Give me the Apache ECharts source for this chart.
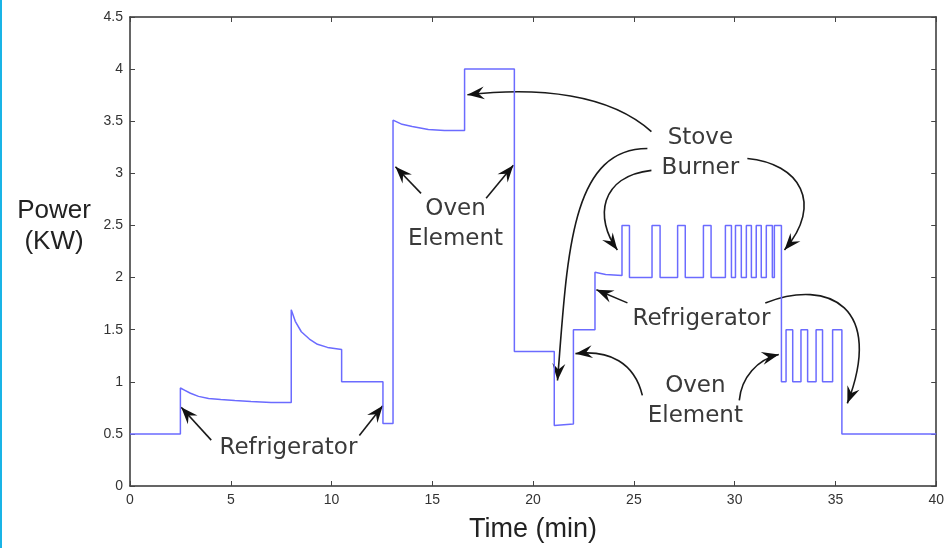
<!DOCTYPE html>
<html>
<head>
<meta charset="utf-8">
<script src="https://cdn.jsdelivr.net/npm/echarts@6/dist/echarts.min.js"></script>
<style>
  html, body { margin: 0; padding: 0; background: #fff; }
  #main { width: 947px; height: 548px; }
</style>
</head>
<body>
<div id="main"></div>
<script>
// measured power trace: time (min) and power (kW), vertical steps as repeated times
var timeMin = [
    0, 2.5, 2.5, 2.7, 3.0, 3.4, 3.9, 4.5, 5.2, 6.0, 7.0, 8.0,
    8.0, 8.2, 8.5, 8.9, 9.3, 9.8, 10.5,
    10.5, 12.55, 12.55, 13.05,
    13.05, 13.5, 14.0, 14.8, 15.6, 16.6,
    16.6, 19.07, 19.07, 21.05, 21.05, 22.0,
    22.0, 23.07, 23.07, 23.6, 24.41,
    24.41, 24.78, 24.78, 25.9, 25.9, 26.3, 26.3, 27.17, 27.17, 27.55, 27.55, 28.45,
    28.45, 28.83, 28.83, 29.54, 29.54, 29.84, 29.84, 30.04, 30.04, 30.33, 30.33, 30.58,
    30.58, 30.83, 30.83, 31.07, 31.07, 31.32, 31.32, 31.57, 31.57, 31.87, 31.87, 31.97,
    31.97, 32.32, 32.32, 32.55, 32.55, 32.88, 32.88, 33.29, 33.29, 33.62, 33.62, 34.04,
    34.04, 34.36, 34.36, 34.86, 34.86, 35.32, 35.32, 40
];
var powerKw = [
    0.5, 0.5, 0.94, 0.92, 0.89, 0.86, 0.84, 0.83, 0.82, 0.81, 0.8, 0.8,
    1.69, 1.58, 1.48, 1.41, 1.36, 1.33, 1.31,
    1.0, 1.0, 0.6, 0.6,
    3.51, 3.47, 3.45, 3.42, 3.41, 3.41,
    4.0, 4.0, 1.29, 1.29, 0.58, 0.595,
    1.5, 1.5, 2.05, 2.03, 2.02,
    2.5, 2.5, 2.0, 2.0, 2.5, 2.5, 2.0, 2.0, 2.5, 2.5, 2.0, 2.0,
    2.5, 2.5, 2.0, 2.0, 2.5, 2.5, 2.0, 2.0, 2.5, 2.5, 2.0, 2.0,
    2.5, 2.5, 2.0, 2.0, 2.5, 2.5, 2.0, 2.0, 2.5, 2.5, 2.0, 2.0,
    2.5, 2.5, 1.0, 1.0, 1.5, 1.5, 1.0, 1.0, 1.5, 1.5, 1.0, 1.0,
    1.5, 1.5, 1.0, 1.0, 1.5, 1.5, 0.5, 0.5
];

// annotations, in data units [min, kW]
var noteTexts = [
    { text: 'Refrigerator', at: [7.86, 0.36] },
    { text: 'Oven\nElement', at: [16.15, 2.51] },
    { text: 'Stove\nBurner', at: [28.3, 3.19] },
    { text: 'Refrigerator', at: [28.35, 1.6] },
    { text: 'Oven\nElement', at: [28.05, 0.82] }
];
// each arrow: start, control 1, control 2, tip
var noteArrows = [
    [[4.03, 0.44], [4.03, 0.44], [2.54, 0.755], [2.54, 0.755]],
    [[11.38, 0.484], [11.38, 0.484], [12.54, 0.771], [12.54, 0.771]],
    [[14.44, 2.808], [14.44, 2.808], [13.17, 3.063], [13.17, 3.063]],
    [[17.67, 2.76], [17.67, 2.76], [19.02, 3.078], [19.02, 3.078]],
    [[25.87, 3.4], [23.78, 3.763], [20.31, 3.83], [16.74, 3.754]],
    [[25.67, 3.238], [21.8, 3.238], [21.7, 2.187], [21.21, 1.012]],
    [[25.87, 3.028], [23.29, 2.97], [23.04, 2.569], [24.18, 2.264]],
    [[30.63, 3.142], [33.21, 3.095], [34.45, 2.713], [32.47, 2.264]],
    [[24.68, 1.757], [24.68, 1.757], [23.14, 1.882], [23.14, 1.882]],
    [[31.52, 1.757], [34.7, 1.996], [37.43, 1.71], [35.59, 0.793]],
    [[25.42, 0.869], [25.03, 1.184], [23.78, 1.309], [22.1, 1.27]],
    [[30.23, 0.821], [30.33, 1.041], [31.12, 1.213], [32.19, 1.261]]
];

var chart = echarts.init(document.getElementById('main'));

var trace = timeMin.map(function (t, i) { return [t, powerKw[i]]; });

var axisLine = { onZero: false, lineStyle: { color: '#333', width: 1.5 } };
var tick = { inside: true, length: 5, lineStyle: { color: '#444', width: 1 } };
var tickLabel = { color: '#333', fontSize: 14, fontFamily: 'Liberation Sans', margin: 7 };

var option = {
    animation: false,
    backgroundColor: '#fff',
    grid: { left: 130, right: 9, top: 17, bottom: 59 },
    xAxis: [{
        type: 'value', min: 0, max: 40, interval: 5, position: 'bottom',
        name: 'Time (min)', nameLocation: 'middle', nameGap: 30,
        nameTextStyle: { fontFamily: 'Liberation Sans', fontSize: 27, color: '#222' },
        axisLine: axisLine, axisTick: tick, axisLabel: tickLabel,
        splitLine: { show: false }
    }, {
        type: 'value', min: 0, max: 40, interval: 5, position: 'top',
        axisLine: axisLine, axisTick: tick, axisLabel: { show: false },
        splitLine: { show: false }
    }],
    yAxis: [{
        type: 'value', min: 0, max: 4.5, interval: 0.5, position: 'left',
        axisLine: axisLine, axisTick: tick, axisLabel: tickLabel,
        splitLine: { show: false }
    }, {
        type: 'value', min: 0, max: 4.5, interval: 0.5, position: 'right',
        axisLine: axisLine, axisTick: tick, axisLabel: { show: false },
        splitLine: { show: false }
    }],
    series: [{
        type: 'line',
        xAxisIndex: 0, yAxisIndex: 0,
        data: trace,
        symbol: 'none',
        lineStyle: { color: '#6b6bff', width: 1.5 }
    }]
};
chart.setOption(option);

function px(pt) {
    return chart.convertToPixel({ xAxisIndex: 0, yAxisIndex: 0 }, pt);
}

function drawNotes() {
    var g = [];
    // thin cyan edge on the left of the original picture
    g.push({ type: 'rect', left: 0, top: 0, shape: { width: 2, height: 548 }, style: { fill: '#19b4e6' } });
    g.push({
        type: 'text', x: 54, y: 226,
        style: {
            text: 'Power\n(KW)', fontFamily: 'Liberation Sans', fontSize: 26, lineHeight: 31,
            fill: '#222', align: 'center', verticalAlign: 'middle'
        }
    });
    noteTexts.forEach(function (n) {
        var p = px(n.at);
        g.push({
            type: 'text', x: p[0], y: p[1],
            style: {
                text: n.text, fontFamily: 'DejaVu Sans', fontSize: 23, lineHeight: 30,
                fill: '#3a3a3a', align: 'center', verticalAlign: 'middle'
            }
        });
    });
    noteArrows.forEach(function (a) {
        var s = px(a[0]), c1 = px(a[1]), c2 = px(a[2]), e = px(a[3]);
        g.push({
            type: 'bezierCurve',
            shape: { x1: s[0], y1: s[1], cpx1: c1[0], cpy1: c1[1], cpx2: c2[0], cpy2: c2[1], x2: e[0], y2: e[1] },
            style: { stroke: '#1a1a1a', lineWidth: 1.6, fill: 'none' }
        });
        var from = (Math.abs(c2[0] - e[0]) + Math.abs(c2[1] - e[1]) < 1) ? s : c2;
        var dx = e[0] - from[0], dy = e[1] - from[1];
        var len = Math.sqrt(dx * dx + dy * dy);
        dx /= len; dy /= len;
        var nx = -dy, ny = dx;
        var L = 17, W = 6.5, N = 11;
        g.push({
            type: 'polygon',
            shape: {
                points: [
                    [e[0], e[1]],
                    [e[0] - L * dx + W * nx, e[1] - L * dy + W * ny],
                    [e[0] - N * dx, e[1] - N * dy],
                    [e[0] - L * dx - W * nx, e[1] - L * dy - W * ny]
                ]
            },
            style: { fill: '#111' }
        });
    });
    chart.setOption({ graphic: g });
}
drawNotes();

window.onresize = function () {
    chart.resize();
};
</script>
</body>
</html>
